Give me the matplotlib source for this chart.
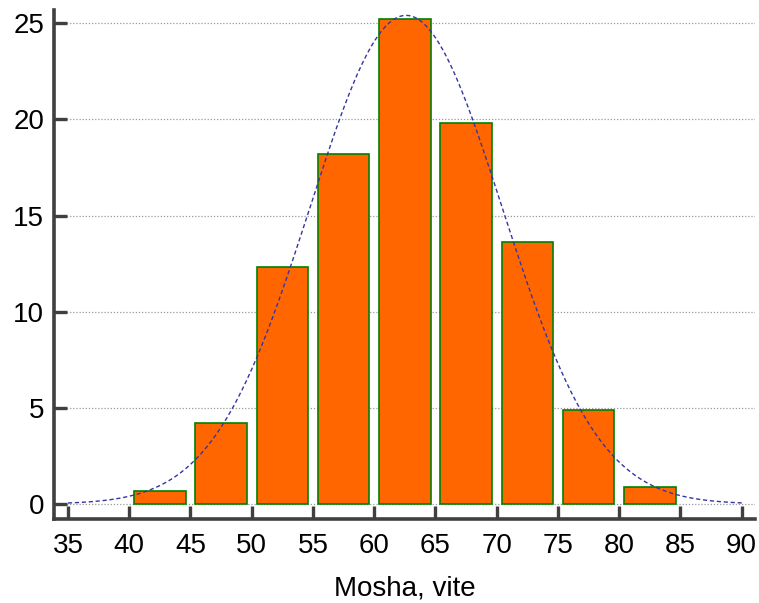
import numpy as np
import matplotlib
matplotlib.use("Agg")
import matplotlib.pyplot as plt

plt.rcParams['font.family'] = ['Liberation Sans', 'DejaVu Sans']

# Age bins (years) and share of respondents in each bin (%)
bin_edges = [40, 45, 50, 55, 60, 65, 70, 75, 80, 85]
percent = [0.7, 4.2, 12.3, 18.2, 25.2, 19.8, 13.6, 4.9, 0.9]
x_ticks = [35, 40, 45, 50, 55, 60, 65, 70, 75, 80, 85, 90]
y_ticks = [0, 5, 10, 15, 20, 25]

# Fitted normal distribution parameters
mean_age = 62.6
sd_age = 7.85
bin_width = 5

fig = plt.figure(figsize=(7.59, 6.03), dpi=100)
ax = fig.add_axes([0.0711, 0.1393, 0.9236, 0.8441])

centers = [e + bin_width / 2 for e in bin_edges[:-1]]
ax.bar(centers, percent, width=4.2, color='#FF6600', edgecolor='#008000',
       linewidth=1.2, zorder=3)

xs = np.linspace(35, 90, 400)
pdf = 100 * bin_width * np.exp(-0.5 * ((xs - mean_age) / sd_age) ** 2) / (sd_age * np.sqrt(2 * np.pi))
ax.plot(xs, pdf, color='#3535A5', linewidth=1.0, linestyle=(0, (3, 2)), zorder=4)

ax.set_xlim(33.86, 91.08)
ax.set_ylim(-0.78, 25.69)
ax.set_xticks(x_ticks)
ax.set_yticks(y_ticks)

ax.yaxis.grid(True, linestyle=(0, (1, 1.5)), color='#999999', linewidth=0.9, zorder=0)
ax.set_axisbelow(True)

for side in ('top', 'right'):
    ax.spines[side].set_visible(False)
for side in ('left', 'bottom'):
    ax.spines[side].set_color('#404040')
    ax.spines[side].set_linewidth(2.6)

ax.tick_params(axis='both', direction='in', length=9.5, width=2.4, color='#404040',
               labelsize=20, labelcolor='black')
ax.tick_params(axis='y', pad=7)
ax.tick_params(axis='x', pad=10)

ax.set_xlabel('Mosha, vite', fontsize=20, labelpad=12)

fig.savefig('out.png', dpi=100)
